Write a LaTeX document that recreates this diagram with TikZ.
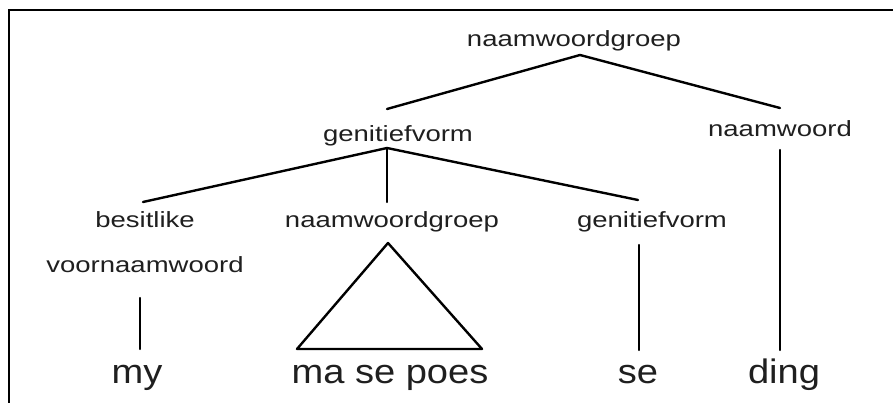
\documentclass[tikz,border=0pt]{standalone}
\usepackage{fontspec}
\newfontfamily\lblfont[FakeStretch=1.25]{Liberation Sans}
\newfontfamily\wordfont[FakeStretch=1.12]{Liberation Sans}
\begin{document}
\begin{tikzpicture}[x=1pt,y=-1pt,
  lbl/.style={font=\lblfont\fontsize{22}{26}\selectfont, inner sep=0pt, anchor=base, text=black!88},
  word/.style={font=\wordfont\fontsize{34}{40}\selectfont, inner sep=0pt, anchor=base, text=black!88},
  edge/.style={line width=2.4pt, line cap=round, line join=round},
  frame/.style={line width=2.6pt}]
\useasboundingbox (0,0) rectangle (893,403);
\draw[frame] (9,404) -- (9,10) -- (894,10);
% labels
\node[lbl] (np1) at (574,47) {naamwoordgroep};
\node[lbl] (gen1) at (398,142) {genitiefvorm};
\node[lbl] (n1) at (780,137) {naamwoord};
\node[lbl] (bes) at (145,228) {besitlike};
\node[lbl] (voor) at (145,272) {voornaamwoord};
\node[lbl] (np2) at (392,228) {naamwoordgroep};
\node[lbl] (gen2) at (652,228) {genitiefvorm};
\node[word] (my) at (137,383) {my};
\node[word] (mse) at (390,383) {ma se poes};
\node[word] (se) at (638,383) {se};
\node[word] (ding) at (784,383) {ding};
% connector end points
\coordinate (np1b) at (580,55);
\coordinate (gen1t) at (387,109);
\coordinate (n1t) at (780,108);
\coordinate (n1b) at (780,150);
\coordinate (dingt) at (780,350);
\coordinate (gen1b) at (387,148);
\coordinate (best) at (143,202);
\coordinate (np2t) at (387,202);
\coordinate (gen2t) at (638,200);
\coordinate (voorb) at (140,298);
\coordinate (myt) at (140,349);
\coordinate (np2b) at (388,243);
\coordinate (triL) at (297,349);
\coordinate (triR) at (482,349);
\coordinate (gen2b) at (639,245);
\coordinate (set) at (639,350);
% connectors
\draw[edge] (gen1t) -- (np1b) -- (n1t);
\draw[edge] (n1b) -- (dingt);
\draw[edge] (best) -- (gen1b) -- (gen2t);
\draw[edge] (gen1b) -- (np2t);
\draw[edge] (voorb) -- (myt);
\draw[edge] (np2b) -- (triL) -- (triR) -- cycle;
\draw[edge] (gen2b) -- (set);
\end{tikzpicture}
\end{document}
